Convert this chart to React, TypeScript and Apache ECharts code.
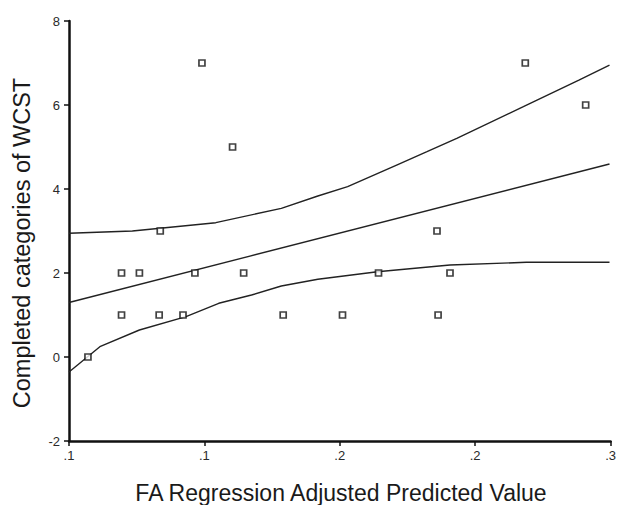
import React, { useEffect, useRef } from "react";
import * as echarts from "echarts";

// Observed points: [FA regression adjusted predicted value, completed categories of WCST]
const pointX = [0.057, 0.0694, 0.0694, 0.076, 0.0833, 0.0837, 0.0921, 0.0965, 0.0991, 0.1104, 0.1145, 0.1291, 0.151, 0.1643, 0.1859, 0.1863, 0.1907, 0.2185, 0.2408];
const pointY = [0, 2, 1, 2, 1, 3, 1, 2, 7, 5, 2, 1, 1, 2, 3, 1, 2, 7, 6];

// Fitted regression line
const fitX = [0.05, 0.2496];
const fitY = [1.298, 4.595];

// Upper confidence band
const upperX = [0.05, 0.0734, 0.1042, 0.1284, 0.1419, 0.1529, 0.1712, 0.1822, 0.1932, 0.2178, 0.2383, 0.2496];
const upperY = [2.945, 3.0, 3.198, 3.54, 3.833, 4.055, 4.576, 4.888, 5.207, 5.96, 6.595, 6.952];

// Lower confidence band
const lowerX = [0.05, 0.0614, 0.076, 0.0932, 0.1053, 0.1174, 0.1284, 0.1419, 0.1639, 0.1907, 0.2189, 0.2496];
const lowerY = [-0.357, 0.245, 0.643, 0.96, 1.279, 1.476, 1.69, 1.85, 2.031, 2.19, 2.255, 2.255];

const xTickLabels = [".1", ".1", ".2", ".2", ".3"];
const yTickValues = [-2, 0, 2, 4, 6, 8];

const FONT = "'Liberation Sans', Arial, Helvetica, sans-serif";
const AXIS_COLOR = "#111";
const LINE_COLOR = "#222";

const zip = (xs: number[], ys: number[]) => xs.map((x, i) => [x, ys[i]]);

export default function App() {
  const ref = useRef<HTMLDivElement>(null);
  useEffect(() => {
    if (!ref.current) return;
    const chart = echarts.init(ref.current, undefined, { renderer: "svg" });
    const lineSeries = (name: string, xs: number[], ys: number[]) => ({
      name,
      type: "line",
      data: zip(xs, ys),
      showSymbol: false,
      symbol: "none",
      smooth: false,
      lineStyle: { color: LINE_COLOR, width: 1.4 },
      z: 2,
    });
    chart.setOption({
      animation: false,
      backgroundColor: "#ffffff",
      grid: { left: 69, right: 4, top: 21, bottom: 64, containLabel: false },
      xAxis: {
        type: "value",
        min: 0.05,
        max: 0.25,
        interval: 0.05,
        splitLine: { show: false },
        axisLine: { show: true, onZero: false, lineStyle: { color: AXIS_COLOR, width: 2.5 } },
        axisTick: { show: true, length: 5, lineStyle: { color: AXIS_COLOR, width: 1.5 } },
        axisLabel: {
          margin: 8,
          color: "#2a2a2a",
          fontSize: 13,
          fontFamily: FONT,
          formatter: (_v: number, idx: number) => xTickLabels[idx] ?? "",
        },
      },
      yAxis: {
        type: "value",
        min: yTickValues[0],
        max: yTickValues[yTickValues.length - 1],
        interval: 2,
        splitLine: { show: false },
        axisLine: { show: true, onZero: false, lineStyle: { color: AXIS_COLOR, width: 2.5 } },
        axisTick: { show: true, length: 5, lineStyle: { color: AXIS_COLOR, width: 1.5 } },
        axisLabel: { margin: 9, color: "#2a2a2a", fontSize: 13, fontFamily: FONT },
      },
      graphic: [
        {
          type: "text",
          x: 22,
          y: 243,
          rotation: Math.PI / 2,
          style: {
            text: "Completed categories of WCST",
            fontSize: 23.5,
            fontFamily: FONT,
            fill: "#1a1a1a",
            textAlign: "center",
            textVerticalAlign: "middle",
          },
        },
        {
          type: "text",
          x: 341,
          y: 493,
          style: {
            text: "FA Regression Adjusted Predicted Value",
            fontSize: 23,
            fontFamily: FONT,
            fill: "#1a1a1a",
            textAlign: "center",
            textVerticalAlign: "middle",
          },
        },
      ],
      series: [
        lineSeries("Upper", upperX, upperY),
        lineSeries("Fit", fitX, fitY),
        lineSeries("Lower", lowerX, lowerY),
        {
          name: "Observed",
          type: "scatter",
          data: zip(pointX, pointY),
          symbol: "rect",
          symbolSize: 6,
          itemStyle: { color: "#ffffff", borderColor: "#111", borderWidth: 1.7 },
          z: 3,
        },
      ],
    });
    return () => chart.dispose();
  }, []);
  return (
    <div
      ref={ref}
      style={{ position: "absolute", left: 0, top: 0, width: 619, height: 505, background: "#fff" }}
    />
  );
}
